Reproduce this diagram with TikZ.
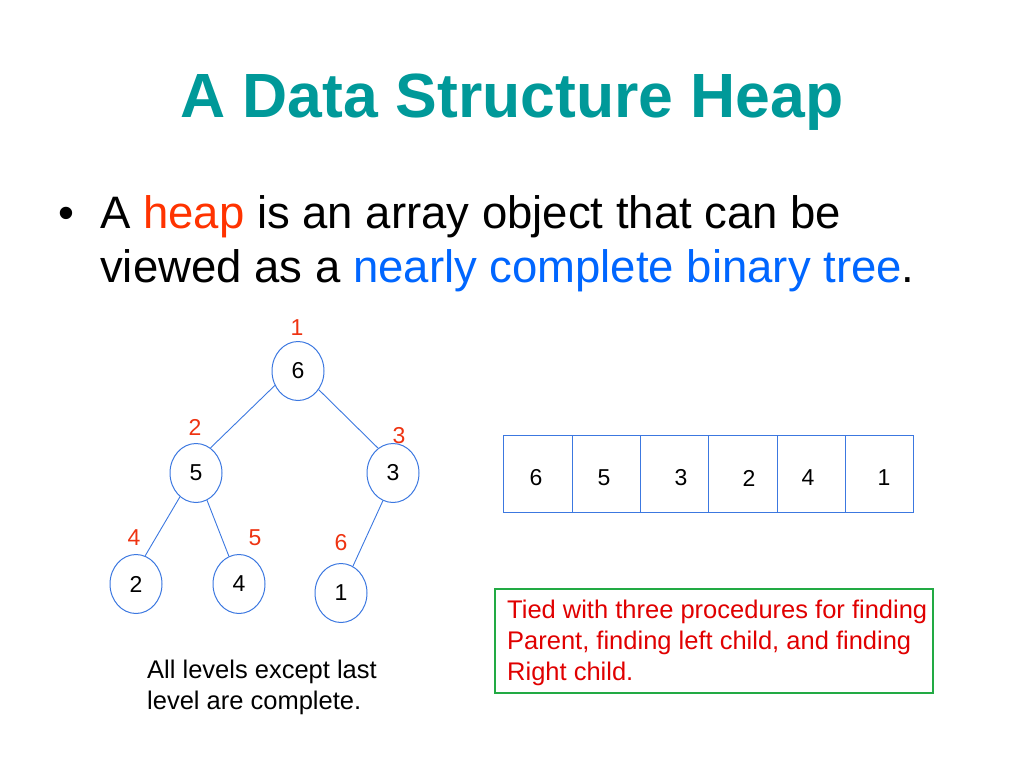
\documentclass[tikz,border=0pt]{standalone}
\usepackage{fontspec}
\setmainfont{Liberation Sans}
\usetikzlibrary{shapes.geometric}
\definecolor{teal1}{HTML}{009999}
\definecolor{heapred}{HTML}{FF3300}
\definecolor{nblue}{HTML}{0066FF}
\definecolor{lineblue}{HTML}{3C78E0}
\definecolor{idxred}{HTML}{EE3311}
\definecolor{boxgreen}{HTML}{22AA44}
\definecolor{boxred}{HTML}{E00000}
\tikzset{
  treenode/.style={ellipse, draw=lineblue, line width=1pt, minimum width=52pt, minimum height=59pt, inner sep=0pt, font=\fontsize{23}{26}\selectfont},
  idx/.style={text=idxred, font=\fontsize{23}{26}\selectfont, inner sep=0pt},
  edge/.style={draw=lineblue, line width=0.9pt},
  cell/.style={draw=lineblue, line width=1pt, minimum height=77pt, inner sep=0pt, anchor=north west},
  cellnum/.style={font=\fontsize{23}{26}\selectfont, inner sep=0pt},
  txt/.style={font=\fontsize{25.5}{31}\selectfont, inner sep=0pt, anchor=base west},
}
\begin{document}
\begin{tikzpicture}[x=1pt,y=-1pt]
\useasboundingbox (0,0) rectangle (1024,768);
% title
\node[font=\fontsize{62.5}{70}\selectfont\bfseries, text=teal1, anchor=base, inner sep=0pt] (title) at (512,117) {A Data Structure Heap};
% bullet
\node[font=\fontsize{45.5}{54}\selectfont, anchor=base west, inner sep=0pt] (bul) at (58,228) {•};
\node[font=\fontsize{45.5}{54}\selectfont, anchor=base west, inner sep=0pt] (l1) at (100,228) {A \textcolor{heapred}{heap} is an array object that can be};
\node[font=\fontsize{45.5}{54}\selectfont, anchor=base west, inner sep=0pt] (l2) at (100,282) {viewed as a \textcolor{nblue}{nearly complete binary tree}.};
% tree
\node[treenode] (n6) at (298,371) {6};
\node[treenode] (n5) at (196,473) {5};
\node[treenode] (n3) at (393,473) {3};
\node[treenode] (n2) at (136,584) {2};
\node[treenode] (n4) at (239,584) {4};
\node[treenode] (n1) at (341,593) {1};
\draw[edge] (n6.212) -- (n5.60);
\draw[edge] (n6.318) -- (n3.121);
\draw[edge] (n5.236) -- (n2.72);
\draw[edge] (n5.292) -- (n4.110);
\draw[edge] (n3.250) -- (n1.66);
% indices
\node[idx] (i1) at (297,328) {1};
\node[idx] (i2) at (195,427) {2};
\node[idx] (i3) at (399,436) {3};
\node[idx] (i4) at (134,538) {4};
\node[idx] (i5) at (255,538) {5};
\node[idx] (i6) at (341,543) {6};
% array
\node[cell, minimum width=69pt] (c1) at (503,435) {};
\node[cell, minimum width=68pt] (c2) at (572,435) {};
\node[cell, minimum width=68pt] (c3) at (640,435) {};
\node[cell, minimum width=69pt] (c4) at (708,435) {};
\node[cell, minimum width=68pt] (c5) at (777,435) {};
\node[cell, minimum width=68pt] (c6) at (845,435) {};
\node[cellnum] (v1) at (536,478) {6};
\node[cellnum] (v2) at (604,478) {5};
\node[cellnum] (v3) at (681,478) {3};
\node[cellnum] (v4) at (749,478) {2};
\node[cellnum] (v5) at (808,478) {4};
\node[cellnum] (v6) at (884,478) {1};
% green box
\node[draw=boxgreen, line width=1.5pt, minimum width=438pt, minimum height=104pt, anchor=north west, inner sep=0pt] (gbox) at (494,588) {};
\node[txt, text=boxred] (g1) at (507,618) {Tied with three procedures for finding};
\node[txt, text=boxred] (g2) at (507,649) {Parent, finding left child, and finding};
\node[txt, text=boxred] (g3) at (507,680) {Right child.};
% caption
\node[txt] (cap1) at (147,678) {All levels except last};
\node[txt] (cap2) at (147,709) {level are complete.};
\end{tikzpicture}
\end{document}
